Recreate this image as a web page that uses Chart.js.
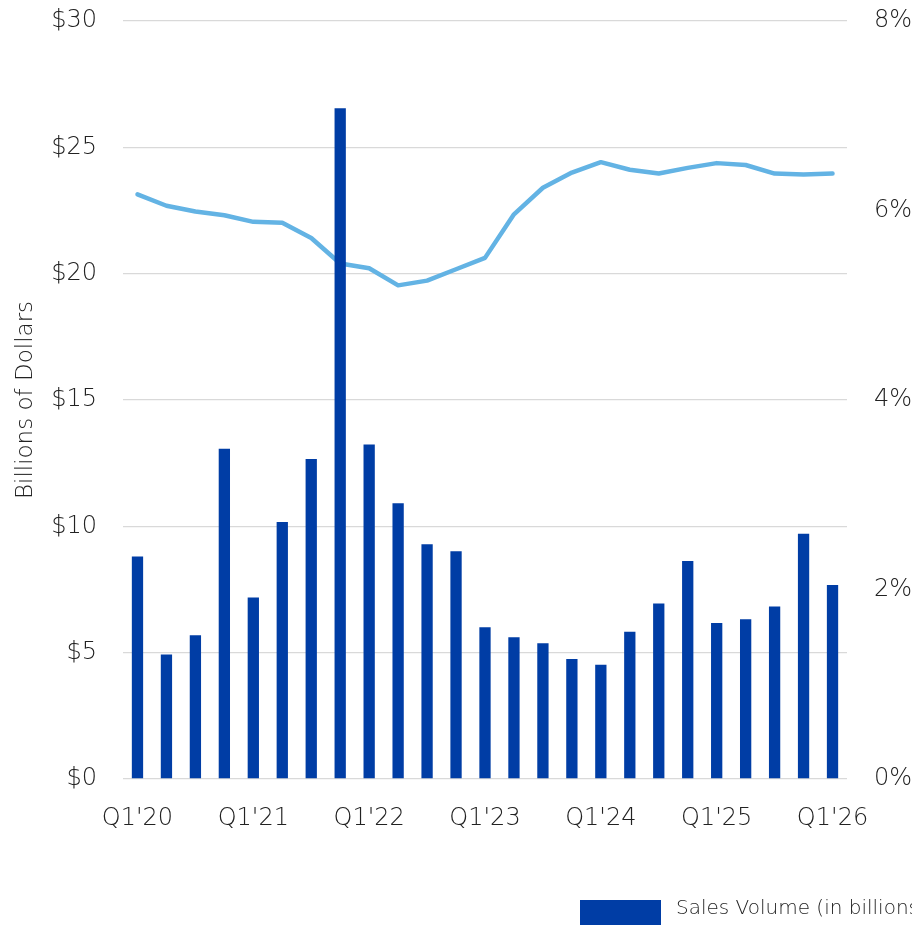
<!DOCTYPE html>
<html>
<head>
<meta charset="utf-8">
<script src="https://cdn.jsdelivr.net/npm/chart.js@4.4.1/dist/chart.umd.min.js"></script>
<style>
  html, body { margin: 0; padding: 0; background: #fff; }
  #wrap { position: relative; width: 912px; height: 925px; }
</style>
</head>
<body>
<div id="wrap"><canvas id="c" width="912" height="925"></canvas></div>
<script>
const categories = [
  "Q1'20","Q2'20","Q3'20","Q4'20",
  "Q1'21","Q2'21","Q3'21","Q4'21",
  "Q1'22","Q2'22","Q3'22","Q4'22",
  "Q1'23","Q2'23","Q3'23","Q4'23",
  "Q1'24","Q2'24","Q3'24","Q4'24",
  "Q1'25","Q2'25","Q3'25","Q4'25",
  "Q1'26"
];
const salesVolume = [
  8.81, 4.93, 5.69, 13.07,
  7.18, 10.17, 12.66, 26.55,
  13.24, 10.91, 9.29, 9.01,
  6.01, 5.61, 5.37, 4.75,
  4.52, 5.83, 6.95, 8.63,
  6.17, 6.32, 6.83, 9.71,
  7.68
];
const capRate = [
  6.17, 6.05, 5.99, 5.95,
  5.88, 5.87, 5.71, 5.44,
  5.39, 5.21, 5.26, 5.38,
  5.50, 5.96, 6.24, 6.40,
  6.51, 6.43, 6.39, 6.45,
  6.50, 6.48, 6.39, 6.38,
  6.39
];
const leftTicks = [0, 5, 10, 15, 20, 25, 30];
const rightTicks = [0, 2, 4, 6, 8];
const legendLabel = "Sales Volume (in billions)";

const FONT = "'DejaVu Sans', sans-serif";
const TXT = '#222222';
const BAR = '#003DA5';
const LINE = '#63B3E4';

const legendPlugin = {
  id: 'customLegend',
  afterDraw(chart) {
    const ctx = chart.ctx;
    ctx.save();
    ctx.fillStyle = BAR;
    ctx.fillRect(580, 900, 81, 25);
    ctx.fillStyle = TXT;
    ctx.font = "200 20px " + FONT;
    ctx.textBaseline = 'middle';
    ctx.textAlign = 'left';
    ctx.fillText(legendLabel, 676, 909);
    ctx.restore();
  }
};

new Chart(document.getElementById('c'), {
  data: {
    labels: categories,
    datasets: [
      {
        type: 'bar',
        label: legendLabel,
        data: salesVolume,
        backgroundColor: BAR,
        borderWidth: 0,
        barPercentage: 0.78,
        categoryPercentage: 0.5,
        yAxisID: 'y',
        order: 0
      },
      {
        type: 'line',
        label: 'Cap Rate',
        data: capRate,
        borderColor: LINE,
        borderWidth: 4.5,
        pointRadius: 0,
        tension: 0,
        borderCapStyle: 'round',
        borderJoinStyle: 'round',
        fill: false,
        yAxisID: 'y1',
        order: 1
      }
    ]
  },
  options: {
    responsive: false,
    animation: false,
    layout: { padding: { top: 21, left: 0, right: 0, bottom: 0 } },
    plugins: {
      legend: { display: false },
      tooltip: { enabled: false }
    },
    scales: {
      x: {
        grid: { display: false, drawTicks: false },
        border: { display: false },
        ticks: {
          autoSkip: false,
          maxRotation: 0,
          padding: 25,
          color: TXT,
          font: { family: FONT, size: 24, weight: '200' },
          callback: function(v, i) { return i % 4 === 0 ? categories[i] : ''; }
        },
        afterFit(scale) { scale.height = 146; scale.paddingLeft = 0; scale.paddingRight = 0; }
      },
      y: {
        position: 'left',
        min: 0, max: 30,
        afterBuildTicks(scale) { scale.ticks = leftTicks.map(v => ({ value: v })); },
        grid: { color: '#d9d9d9', lineWidth: 1.3, drawTicks: false },
        border: { display: false },
        ticks: {
          padding: 26,
          color: TXT,
          font: { family: FONT, size: 24, weight: '200' },
          callback: v => '$' + v
        },
        title: {
          display: true,
          text: 'Billions of Dollars',
          color: TXT,
          font: { family: FONT, size: 23, weight: '200' },
          padding: { top: 12, bottom: 0 }
        },
        afterFit(scale) { scale.width = 123; scale.paddingTop = 0; scale.paddingBottom = 0; }
      },
      y1: {
        position: 'right',
        min: 0, max: 8,
        afterBuildTicks(scale) { scale.ticks = rightTicks.map(v => ({ value: v })); },
        grid: { display: false, drawTicks: false },
        border: { display: false },
        ticks: {
          padding: 27,
          color: TXT,
          font: { family: FONT, size: 24, weight: '200' },
          callback: v => v + '%'
        },
        afterFit(scale) { scale.width = 65; scale.paddingTop = 0; scale.paddingBottom = 0; }
      }
    }
  },
  plugins: [legendPlugin]
});
</script>
</body>
</html>
